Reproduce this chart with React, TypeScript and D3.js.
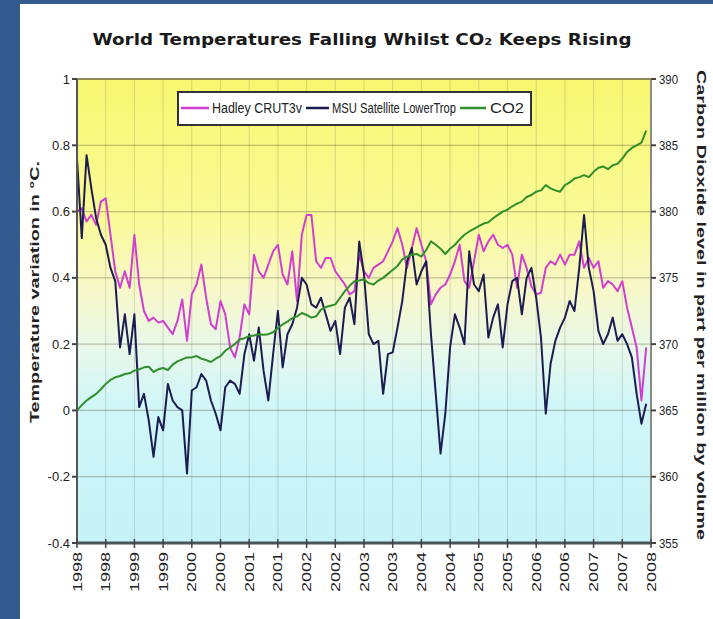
import React from 'react';
import * as d3 from 'd3';

const xTickLabels = ['1998','1998','1999','1999','2000','2000','2001','2001','2002','2002','2003','2003','2004','2004','2005','2005','2006','2006','2007','2007','2008'];
const tempTicks = [1, 0.8, 0.6, 0.4, 0.2, 0, -0.2, -0.4];
const tempTickLabels = ['1', '0.8', '0.6', '0.4', '0.2', '0', '-0.2', '-0.4'];
const co2Ticks = [390, 385, 380, 375, 370, 365, 360, 355];

const hadley = [
  0.60, 0.61, 0.57, 0.59, 0.56, 0.63, 0.64, 0.53, 0.42, 0.37,
  0.42, 0.37, 0.53, 0.38, 0.30, 0.27, 0.28, 0.265, 0.27, 0.25,
  0.23, 0.27, 0.335, 0.21, 0.35, 0.38, 0.44, 0.34, 0.26, 0.245,
  0.33, 0.29, 0.19, 0.16, 0.22, 0.32, 0.29, 0.47, 0.42, 0.40,
  0.44, 0.48, 0.50, 0.41, 0.38, 0.48, 0.33, 0.53, 0.59, 0.59,
  0.45, 0.43, 0.46, 0.46, 0.42, 0.40, 0.38, 0.35, 0.36, 0.47,
  0.42, 0.40, 0.43, 0.44, 0.45, 0.48, 0.51, 0.55, 0.50, 0.43,
  0.49, 0.55, 0.50, 0.45, 0.32, 0.35, 0.37, 0.38, 0.41, 0.45,
  0.50, 0.39, 0.37, 0.45, 0.53, 0.48, 0.51, 0.53, 0.50, 0.49,
  0.50, 0.47, 0.37, 0.47, 0.43, 0.375, 0.35, 0.355, 0.43, 0.45,
  0.44, 0.47, 0.44, 0.47, 0.47, 0.51, 0.43, 0.46, 0.43, 0.45,
  0.37, 0.39, 0.38, 0.36, 0.39, 0.31, 0.25, 0.19, 0.03, 0.19,
];

const msu = [
  0.76, 0.52, 0.77, 0.67, 0.58, 0.53, 0.50, 0.43, 0.39, 0.19,
  0.29, 0.17, 0.29, 0.01, 0.05, -0.03, -0.14, -0.02, -0.06, 0.08,
  0.03, 0.01, 0.00, -0.19, 0.06, 0.07, 0.11, 0.09, 0.03, -0.01,
  -0.06, 0.07, 0.09, 0.08, 0.05, 0.17, 0.23, 0.15, 0.25, 0.12,
  0.03, 0.17, 0.30, 0.13, 0.23, 0.26, 0.31, 0.40, 0.38, 0.32,
  0.31, 0.34, 0.29, 0.24, 0.27, 0.17, 0.31, 0.34, 0.26, 0.51,
  0.41, 0.23, 0.20, 0.21, 0.05, 0.17, 0.175, 0.25, 0.33, 0.45,
  0.49, 0.38, 0.42, 0.45, 0.23, 0.05, -0.13, -0.01, 0.19, 0.29,
  0.25, 0.20, 0.48, 0.38, 0.36, 0.41, 0.22, 0.28, 0.32, 0.19,
  0.32, 0.39, 0.40, 0.29, 0.40, 0.43, 0.34, 0.22, -0.01, 0.14,
  0.21, 0.25, 0.28, 0.33, 0.30, 0.43, 0.59, 0.43, 0.36, 0.24,
  0.20, 0.23, 0.28, 0.21, 0.23, 0.20, 0.16, 0.05, -0.04, 0.02,
];

const co2 = [
  365.0, 365.4, 365.75, 366.0, 366.25, 366.6, 367.0, 367.3, 367.5, 367.6,
  367.75, 367.8, 368.0, 368.1, 368.25, 368.3, 367.9, 368.1, 368.2, 368.05,
  368.45, 368.7, 368.85, 369.0, 369.0, 369.1, 368.9, 368.8, 368.65, 368.9,
  369.1, 369.5, 369.75, 370.0, 370.35, 370.45, 370.6, 370.65, 370.75, 370.7,
  370.75, 370.9, 371.2, 371.5, 371.7, 371.95, 372.1, 372.35, 372.2, 372.0,
  372.1, 372.6, 372.8, 372.9, 373.0, 373.5, 374.0, 374.4, 374.75, 374.8,
  374.9, 374.6, 374.5, 374.8, 375.0, 375.3, 375.6, 375.9, 376.4, 376.6,
  376.75, 376.8, 376.6, 377.1, 377.75, 377.5, 377.2, 376.8, 377.2, 377.5,
  377.9, 378.25, 378.5, 378.7, 378.9, 379.1, 379.2, 379.5, 379.75, 380.0,
  380.15, 380.4, 380.6, 380.75, 381.1, 381.25, 381.5, 381.6, 382.0, 381.75,
  381.6, 381.5, 382.0, 382.2, 382.5, 382.6, 382.75, 382.6, 383.0, 383.3,
  383.4, 383.2, 383.5, 383.6, 384.0, 384.5, 384.8, 385.0, 385.2, 386.1,
];

const W = 713;
const H = 619;
const L = 77;
const R = 651;
const T = 79;
const B = 543;

export default function App() {
  const x = d3.scaleLinear().domain([0, 120]).range([L, R]);
  const yT = d3.scaleLinear().domain([-0.4, 1]).range([B, T]);
  const yC = d3.scaleLinear().domain([355, 390]).range([B, T]);
  const lineT = d3.line<number>().x((_, i) => x(i)).y((d) => yT(d));
  const lineC = d3.line<number>().x((_, i) => x(i)).y((d) => yC(d));
  const monthTicks = d3.range(0, 121, 6);
  const lab = { fontFamily: 'Liberation Sans, Arial, sans-serif', fontSize: 13, fill: '#222' };

  return (
    <svg width={W} height={H} style={{ position: 'absolute', left: 0, top: 0, background: '#fff' }}>
      <defs>
        <linearGradient id="bg" x1="0" y1="0" x2="0" y2="1">
          <stop offset="0%" stopColor="#f7f770" />
          <stop offset="30%" stopColor="#fafa98" />
          <stop offset="45%" stopColor="#f8f8c8" />
          <stop offset="58%" stopColor="#e8f8ea" />
          <stop offset="70%" stopColor="#d0f6f8" />
          <stop offset="100%" stopColor="#c6f3f8" />
        </linearGradient>
      </defs>
      <rect x={0} y={0} width={W} height={H} fill="#fff" />
      <rect x={0} y={0} width={20} height={H} fill="#325a8d" />
      <rect x={0} y={0} width={W} height={4} fill="#325a8d" />

      <text x={362} y={45} textAnchor="middle" fontFamily="DejaVu Sans, sans-serif" fontWeight="bold" fontSize={16} fill="#1a1a1a" textLength={539} lengthAdjust="spacingAndGlyphs">
        World Temperatures Falling Whilst CO₂ Keeps Rising
      </text>

      <rect x={L} y={T} width={R - L} height={B - T} fill="url(#bg)" />

      {monthTicks.map((m) => (
        <line key={'vg' + m} x1={x(m)} x2={x(m)} y1={T} y2={B} stroke="rgba(90,100,80,0.22)" strokeWidth={1} />
      ))}
      {tempTicks.map((t) => (
        <line key={'hg' + t} x1={L} x2={R} y1={yT(t)} y2={yT(t)} stroke="rgba(80,80,50,0.35)" strokeWidth={1.2} />
      ))}

      <path d={lineT(hadley) || ''} fill="none" stroke="#d03fcf" strokeWidth={2} strokeLinejoin="round" />
      <path d={lineT(msu) || ''} fill="none" stroke="#1c1c52" strokeWidth={2} strokeLinejoin="round" />
      <path d={lineC(co2) || ''} fill="none" stroke="#2f8f2a" strokeWidth={2} strokeLinejoin="round" />

      <line x1={L} x2={R} y1={T} y2={T} stroke="#8c8c55" strokeWidth={2} />
      <line x1={R} x2={R} y1={T} y2={B} stroke="#8a8a80" strokeWidth={2} />
      <line x1={L} x2={L} y1={T} y2={B} stroke="#555" strokeWidth={2} />
      <line x1={L - 1} x2={R + 1} y1={B} y2={B} stroke="#4a5555" strokeWidth={3} />

      {tempTicks.map((t, i) => (
        <g key={'lt' + t}>
          <line x1={L - 5} x2={L} y1={yT(t)} y2={yT(t)} stroke="#444" strokeWidth={2} />
          <text x={70} y={yT(t) + 4.5} textAnchor="end" {...lab}>{tempTickLabels[i]}</text>
        </g>
      ))}
      {co2Ticks.map((c) => (
        <g key={'rt' + c}>
          <line x1={R} x2={R + 5} y1={yC(c)} y2={yC(c)} stroke="#444" strokeWidth={2} />
          <text x={659} y={yC(c) + 4.5} textAnchor="start" {...lab} textLength={19} lengthAdjust="spacingAndGlyphs">{c}</text>
        </g>
      ))}
      {monthTicks.map((m, i) => (
        <g key={'bt' + m}>
          <line x1={x(m)} x2={x(m)} y1={B - 4} y2={B + 5} stroke="#444" strokeWidth={1.5} />
          <text transform={`translate(${x(m) + 4.5},552) rotate(-90)`} textAnchor="end" {...lab} fontSize={12} textLength={40} lengthAdjust="spacingAndGlyphs">{xTickLabels[i]}</text>
        </g>
      ))}

      <text transform="translate(39,292) rotate(-90)" textAnchor="middle" fontFamily="Liberation Sans, Arial, sans-serif" fontWeight="bold" fontSize={13} fill="#222" textLength={262} lengthAdjust="spacingAndGlyphs">
        Temperature variation in °C.
      </text>
      <text transform="translate(697,305) rotate(90)" textAnchor="middle" fontFamily="Liberation Sans, Arial, sans-serif" fontWeight="bold" fontSize={12} fill="#222" textLength={470} lengthAdjust="spacingAndGlyphs">
        Carbon Dioxide level in part per million by volume
      </text>

      <rect x={178} y={92} width={353} height={33} fill="#fff" stroke="#333" strokeWidth={2} />
      <line x1={181} x2={209} y1={108} y2={108} stroke="#d03fcf" strokeWidth={2.5} />
      <text x={212} y={113} {...lab} fontSize={14} textLength={90} lengthAdjust="spacingAndGlyphs">Hadley CRUT3v</text>
      <line x1={306} x2={329} y1={108} y2={108} stroke="#1c1c52" strokeWidth={2.5} />
      <text x={332} y={113} {...lab} fontSize={14} textLength={124} lengthAdjust="spacingAndGlyphs">MSU Satellite LowerTrop</text>
      <line x1={460} x2={486} y1={108} y2={108} stroke="#2f8f2a" strokeWidth={2.5} />
      <text x={490} y={113} {...lab} fontSize={14} textLength={34} lengthAdjust="spacingAndGlyphs">CO2</text>
    </svg>
  );
}
